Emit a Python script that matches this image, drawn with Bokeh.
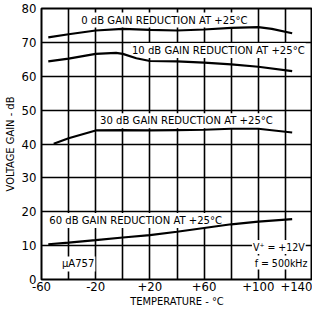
from bokeh.plotting import figure
from bokeh.models import FixedTicker, Label
from bokeh.embed import file_html
from bokeh.resources import INLINE

FONT = "'DejaVu Sans Condensed', 'DejaVu Sans', sans-serif"

# data
t0 = [-55, -40, -20, 0, 20, 40, 60, 80, 100, 110, 125]
g0 = [71.5, 72.4, 73.5, 74.0, 73.7, 73.5, 73.8, 74.3, 74.5, 74.0, 72.7]
t10 = [-55, -40, -20, -5, 0, 10, 20, 40, 60, 80, 100, 125]
g10 = [64.4, 65.2, 66.6, 66.9, 66.6, 65.3, 64.5, 64.4, 64.0, 63.5, 62.8, 61.5]
t30 = [-51, -40, -20, 0, 20, 40, 60, 80, 100, 125]
g30 = [40.1, 41.7, 44.0, 44.1, 44.0, 44.1, 44.2, 44.5, 44.5, 43.4]
t60 = [-55, -40, -20, 0, 20, 40, 60, 80, 100, 125]
g60 = [10.4, 10.9, 11.6, 12.4, 13.1, 14.1, 15.2, 16.3, 17.1, 17.8]

x_ticks = [-60, -20, 20, 60, 100, 140]
x_tick_labels = ["-60", "-20", "+20", "+60", "+100", "+140"]
y_ticks = [0, 10, 20, 30, 40, 50, 60, 70, 80]

p = figure(width=312, height=310, x_range=(-60, 140), y_range=(0, 80),
           output_backend="svg", toolbar_location=None,
           min_border_left=34, min_border_right=0, min_border_top=8, min_border_bottom=30,
           background_fill_color="white", border_fill_color="white")
p.outline_line_color = "black"
p.outline_line_width = 2

p.xaxis.ticker = FixedTicker(ticks=x_ticks)
p.xaxis.major_label_overrides = {t: l for t, l in zip(x_ticks, x_tick_labels)}
p.yaxis.ticker = FixedTicker(ticks=y_ticks)
p.xgrid.ticker = FixedTicker(ticks=list(range(-60, 141, 20)))
p.ygrid.ticker = FixedTicker(ticks=y_ticks)
for g in (p.xgrid, p.ygrid):
    g.grid_line_color = "black"
    g.grid_line_width = 1.6
    g.grid_line_alpha = 1

for ax in (p.xaxis, p.yaxis):
    ax.axis_line_color = None
    ax.major_tick_line_color = None
    ax.minor_tick_line_color = None
    ax.major_tick_out = 0
    ax.major_tick_in = 0
    ax.minor_tick_out = 0
    ax.major_label_text_font = FONT
    ax.major_label_text_font_size = "13px"
    ax.major_label_text_color = "black"
    ax.axis_label_text_font = FONT
    ax.axis_label_text_font_size = "11px"
    ax.axis_label_text_font_style = "normal"
    ax.axis_label_text_color = "black"
p.xaxis.major_label_standoff = 2
p.yaxis.major_label_standoff = 5
p.xaxis.axis_label = "TEMPERATURE - °C"
p.yaxis.axis_label = "VOLTAGE GAIN - dB"
p.xaxis.axis_label_standoff = 1
p.yaxis.axis_label_standoff = 2

for t, g in ((t0, g0), (t10, g10), (t30, g30), (t60, g60)):
    p.line(t, g, line_color="black", line_width=2.2)

def lab(x, y, text, size="11.2px", align="left"):
    p.add_layout(Label(x=x, y=y, text=text, text_font=FONT, text_font_size=size,
                       text_color="black", text_baseline="middle", text_align=align,
                       background_fill_color="white", background_fill_alpha=1.0,
                       padding=1, level="underlay"))

lab(-31.4, 76.6, "0 dB GAIN REDUCTION AT +25°C")
lab(6, 67.6, "10 dB GAIN REDUCTION AT +25°C")
lab(-17.5, 46.9, "30 dB GAIN REDUCTION AT +25°C")
lab(-55, 17.4, "60 dB GAIN REDUCTION AT +25°C")
lab(-45.7, 4.6, "µA757")
lab(135, 9.6, "V⁺ = +12V", size="10.5px", align="right")
lab(137, 5.0, "f = 500kHz", size="10.5px", align="right")

open("out.html", "w").write(file_html(p, INLINE))
